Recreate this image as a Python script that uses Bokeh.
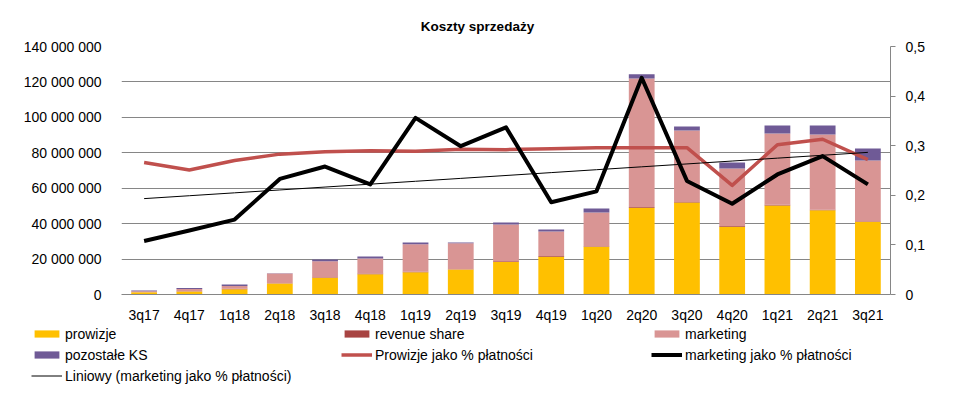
import numpy as np
from bokeh.plotting import figure
from bokeh.layouts import column
from bokeh.models import (Range1d, LinearAxis, FactorRange, Legend, LegendItem, Label,
                          FixedTicker, CustomJSTickFormatter, ColumnDataSource)
from bokeh.embed import file_html
from bokeh.resources import INLINE

title_text = "Koszty sprzedaży"
quarters = ["3q17", "4q17", "1q18", "2q18", "3q18", "4q18", "1q19", "2q19", "3q19",
            "4q19", "1q20", "2q20", "3q20", "4q20", "1q21", "2q21", "3q21"]
prowizje = [1.2e6, 1.7e6, 3.0e6, 6.2e6, 9.5e6, 11.5e6, 12.5e6, 14.1e6, 18.3e6,
            21.3e6, 27.0e6, 49.0e6, 51.9e6, 38.3e6, 50.3e6, 47.5e6, 41.0e6]
revenue_share = [0.1e6, 0.1e6, 0.3e6, 0.1e6, 0.3e6, 0.3e6, 0.4e6, 0.1e6, 0.4e6,
                 0.4e6, 0.2e6, 0.4e6, 0.3e6, 0.4e6, 0.3e6, 0.3e6, 0.4e6]
marketing = [0.6e6, 1.3e6, 1.5e6, 5.5e6, 8.9e6, 8.5e6, 15.5e6, 14.7e6, 20.8e6,
             13.9e6, 19.1e6, 72.6e6, 40.4e6, 32.4e6, 40.3e6, 42.5e6, 34.3e6]
pozostale = [0.4e6, 0.5e6, 0.8e6, 0.2e6, 1.1e6, 1.2e6, 1.0e6, 0.5e6, 1.1e6,
             1.1e6, 2.3e6, 2.4e6, 2.3e6, 3.4e6, 4.5e6, 5.1e6, 6.7e6]
prowizje_pct = [0.266, 0.251, 0.270, 0.283, 0.288, 0.290, 0.289, 0.293, 0.292,
                0.294, 0.296, 0.296, 0.296, 0.220, 0.302, 0.313, 0.272]
marketing_pct = [0.108, 0.129, 0.151, 0.233, 0.258, 0.222, 0.356, 0.299, 0.337,
                 0.186, 0.208, 0.437, 0.229, 0.183, 0.242, 0.279, 0.222]
left_ticks = [0, 20e6, 40e6, 60e6, 80e6, 100e6, 120e6, 140e6]
right_ticks = [0, 0.1, 0.2, 0.3, 0.4, 0.5]
series_names = ["prowizje", "revenue share", "marketing", "pozostałe KS",
                "Prowizje jako % płatności", "marketing jako % płatności",
                "Liniowy (marketing jako % płatności)"]
bar_colors = ["#FFC000", "#A84442", "#D99594", "#6F5A96"]
RED = "#C0504D"

# linear trendline (Excel "Liniowy") of marketing_pct
idx = np.arange(1, len(quarters) + 1)
slope, intercept = np.polyfit(idx, marketing_pct, 1)
trend = list(slope * idx + intercept)

FONT = "Liberation Sans"
GRID = "#868686"
W = 957

# ---- title strip ----
tf = figure(width=W, height=38, x_range=Range1d(0, W), y_range=Range1d(0, 38),
            min_border=0, x_axis_location=None, y_axis_location=None,
            output_backend="svg", toolbar_location=None, tools="")
tf.frame_align = False
tf.grid.visible = False
tf.outline_line_color = None
tf.add_layout(Label(x=477, y=12, text=title_text, text_align="center",
                    text_baseline="alphabetic", text_font=FONT,
                    text_font_size="13.5px", text_font_style="bold", text_color="#000000"))

# ---- main chart ----
src = ColumnDataSource(dict(q=quarters, prowizje=prowizje, revenue_share=revenue_share,
                            marketing=marketing, pozostale=pozostale,
                            ppct=prowizje_pct, mpct=marketing_pct, trend=trend))

p = figure(x_range=FactorRange(*quarters, range_padding=0), y_range=Range1d(0, 140e6),
           frame_width=769, frame_height=248,
           min_border_left=121, min_border_right=67, min_border_top=8, min_border_bottom=31,
           output_backend="svg", toolbar_location=None, tools="")
p.frame_align = False
p.extra_y_ranges = {"pct": Range1d(0, 0.5)}

p.vbar_stack(["prowizje", "revenue_share", "marketing", "pozostale"], x="q",
             width=0.57, source=src, fill_color=bar_colors, line_color=None)
p.line("q", "ppct", source=src, y_range_name="pct", line_color=RED,
       line_width=3.5, line_join="round")
p.line("q", "mpct", source=src, y_range_name="pct", line_color="#000000",
       line_width=4, line_join="round")
p.line("q", "trend", source=src, y_range_name="pct", line_color="#000000", line_width=1)

p.xgrid.grid_line_color = None
p.ygrid.grid_line_color = GRID
p.ygrid.ticker = FixedTicker(ticks=left_ticks)
p.outline_line_color = None

ya = p.yaxis[0]
ya.ticker = FixedTicker(ticks=left_ticks)
ya.formatter = CustomJSTickFormatter(
    code="return Math.round(tick).toString().replace(/\\B(?=(\\d{3})+(?!\\d))/g, ' ');")
ya.axis_line_color = None
ya.major_tick_line_color = None
ya.minor_tick_line_color = None
ya.major_label_standoff = 14
ya.major_label_text_font = FONT
ya.major_label_text_font_size = "14px"
ya.major_label_text_color = "#000000"

xa = p.xaxis[0]
xa.axis_line_color = GRID
xa.major_tick_line_color = None
xa.minor_tick_line_color = None
xa.major_label_standoff = 6
xa.major_label_text_font = FONT
xa.major_label_text_font_size = "14px"
xa.major_label_text_color = "#000000"

ra = LinearAxis(y_range_name="pct", ticker=FixedTicker(ticks=right_ticks),
                formatter=CustomJSTickFormatter(
                    code="return tick === 0 ? '0' : tick.toFixed(1).replace('.', ',');"))
ra.axis_line_color = GRID
ra.major_tick_line_color = GRID
ra.major_tick_in = 0
ra.major_tick_out = 5
ra.minor_tick_line_color = None
ra.major_label_standoff = 10
ra.major_label_text_font = FONT
ra.major_label_text_font_size = "14px"
ra.major_label_text_color = "#000000"
p.add_layout(ra, "right")

# ---- legend strip (swatch proxies with NaN values draw no marks) ----
lf = figure(width=W, height=72, x_range=Range1d(0, 1), y_range=Range1d(0, 1),
            min_border=0, x_axis_location=None, y_axis_location=None,
            output_backend="svg", toolbar_location=None, tools="")
lf.frame_align = False
lf.grid.visible = False
lf.outline_line_color = None
proxy_src = ColumnDataSource(dict(x=[0.5], y=[float("nan")]))
proxies = [lf.vbar(x="x", top="y", width=0.5, fill_color=c, line_color=None, source=proxy_src)
           for c in bar_colors]
proxies.append(lf.line("x", "y", line_color=RED, line_width=3.5, source=proxy_src))
proxies.append(lf.line("x", "y", line_color="#000000", line_width=4, source=proxy_src))
proxies.append(lf.line("x", "y", line_color="#000000", line_width=1, source=proxy_src))

legend = Legend(items=[LegendItem(label=n, renderers=[r]) for n, r in zip(series_names, proxies)],
                location=(31, 13), orientation="horizontal", ncols=3,
                glyph_width=31, glyph_height=9, label_width=272, label_height=17,
                label_standoff=3, spacing=4, padding=0, margin=0,
                border_line_color=None, background_fill_alpha=0,
                label_text_font=FONT, label_text_font_size="14px", label_text_color="#000000")
lf.add_layout(legend)

open("out.html", "w").write(file_html(column(tf, p, lf, spacing=0), INLINE))
